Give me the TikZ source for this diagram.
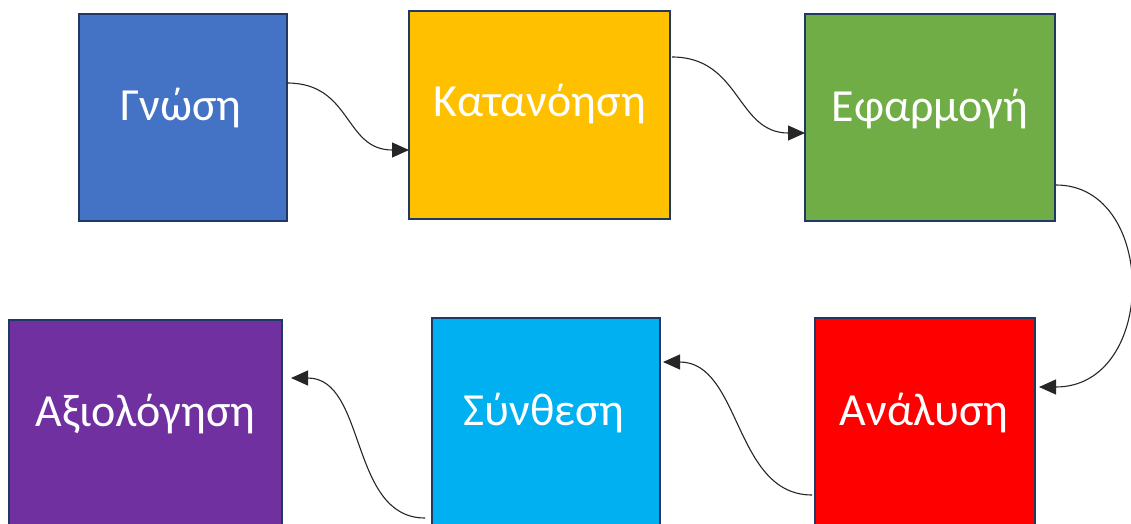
\documentclass[tikz,border=0pt]{standalone}
\usepackage{fontspec}
\setmainfont{Carlito}
\usetikzlibrary{arrows.meta,calc}
\definecolor{cBlue}{HTML}{4472C4}
\definecolor{cGold}{HTML}{FFC000}
\definecolor{cGreen}{HTML}{70AD47}
\definecolor{cRed}{HTML}{FF0000}
\definecolor{cCyan}{HTML}{00B0F0}
\definecolor{cPurple}{HTML}{7030A0}
\definecolor{cBorder}{HTML}{203864}
\definecolor{cLine}{HTML}{262626}
\tikzset{
  box/.style={draw=cBorder, line width=2pt, rectangle, inner sep=0pt, outer sep=0pt},
  txt/.style={text=white, font=\fontsize{46}{54}\selectfont, inner sep=0pt},
  conn/.style={draw=cLine, line width=1.1pt, -{Triangle[length=17pt,width=15pt]}}
}
\begin{document}
\begin{tikzpicture}[x=1pt,y=-1pt]
\useasboundingbox (0,0) rectangle (1131,524);
\node[box, fill=cBlue,   minimum width=208, minimum height=207] (g) at (183,117.5) {};
\node[box, fill=cGold,   minimum width=261, minimum height=208] (k) at (539.5,115) {};
\node[box, fill=cGreen,  minimum width=250, minimum height=207] (e) at (930,117.5) {};
\node[box, fill=cRed,    minimum width=220, minimum height=208] (a) at (925,422) {};
\node[box, fill=cCyan,   minimum width=228, minimum height=208] (s) at (546,422) {};
\node[box, fill=cPurple, minimum width=273, minimum height=208] (x) at (145.5,424) {};
\node[txt] (gt) at ([xshift=-2pt,yshift=9pt]g.center) {Γνώση};
\node[txt] (kt) at ([yshift=11pt]k.center) {Κατανόηση};
\node[txt] (et) at ([yshift=8pt]e.center) {Εφαρμογή};
\node[txt] (at) at ([xshift=-1pt,yshift=9pt]a.center) {Ανάλυση};
\node[txt] (st) at ([xshift=-2pt,yshift=9pt]s.center) {Σύνθεση};
\node[txt] (xt) at ([yshift=10pt]x.center) {Αξιολόγηση};
\draw[conn] ([yshift=34.5pt]g.east) to[out=0,in=180,looseness=1.2] ([yshift=-35pt]k.west);
\draw[conn] ([xshift=2pt,yshift=58pt]k.east) to[out=0,in=180,looseness=1.15] ([yshift=-15.5pt]e.west);
\draw[conn] ([xshift=1pt,yshift=-67.5pt]e.east) .. controls (1158,185) and (1158,387) .. ([xshift=4pt,yshift=35pt]a.east);
\draw[conn] ([xshift=-3pt,yshift=-73pt]a.west) to[out=180,in=0] ([xshift=3pt,yshift=60pt]s.east);
\draw[conn] ([xshift=-7pt,yshift=-96pt]s.west) to[out=180,in=0] ([xshift=9pt,yshift=46pt]x.east);
\end{tikzpicture}
\end{document}
